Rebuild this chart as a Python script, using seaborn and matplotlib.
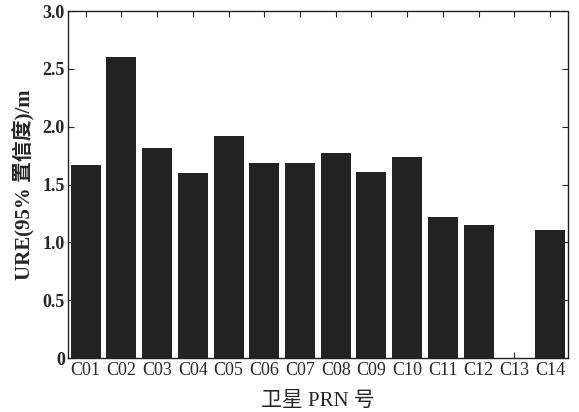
import matplotlib
matplotlib.use("Agg")
import matplotlib.pyplot as plt
import seaborn as sns
import pandas as pd

satellites = ["C01", "C02", "C03", "C04", "C05", "C06", "C07",
              "C08", "C09", "C10", "C11", "C12", "C13", "C14"]
ure_values = [1.67, 2.60, 1.82, 1.60, 1.92, 1.69, 1.69,
              1.77, 1.61, 1.74, 1.22, 1.15, 0.0, 1.11]
y_ticks = [0, 0.5, 1.0, 1.5, 2.0, 2.5, 3.0]
y_tick_labels = ["0", "0.5", "1.0", "1.5", "2.0", "2.5", "3.0"]

sns.set_style("ticks")
plt.rcParams["font.family"] = ["Liberation Serif", "Noto Sans CJK SC"]

df = pd.DataFrame({"sat": satellites, "ure": ure_values})

fig, ax = plt.subplots(figsize=(5.79, 4.12), dpi=100)
fig.subplots_adjust(left=0.117, right=0.981, top=0.973, bottom=0.131)

sns.barplot(data=df, x="sat", y="ure", color="#222222", width=0.84,
            saturation=1, ax=ax, linewidth=0)

ax.set_ylim(0, 3.0)
ax.set_xlim(-0.5, 13.5)
ax.set_yticks(y_ticks)
ax.set_yticklabels(y_tick_labels, fontsize=13, fontweight="bold")
ax.tick_params(axis="x", labelsize=13, direction="in", top=True, length=4, pad=3)
ax.tick_params(axis="y", direction="in", right=True, length=4, pad=2)
for s in ax.spines.values():
    s.set_linewidth(1.0)
    s.set_linestyle((0, (2, 1)))
    s.set_color("#222222")

ax.set_xlabel("卫星 PRN 号", fontsize=15, labelpad=9)
ax.set_ylabel("URE(95% 置信度)/m", fontsize=15, fontweight="bold", labelpad=5)

fig.savefig("out.png", dpi=100)
